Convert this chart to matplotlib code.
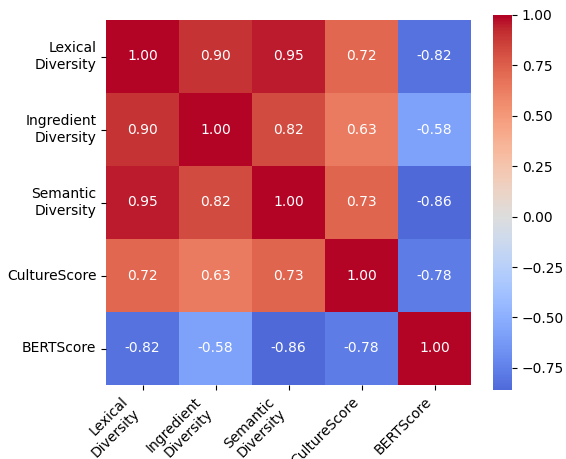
import numpy as np
import matplotlib
matplotlib.use("Agg")
import matplotlib.pyplot as plt
import seaborn as sns

labels = ["Lexical\nDiversity", "Ingredient\nDiversity", "Semantic\nDiversity",
          "CultureScore", "BERTScore"]
corr = np.array([
    [1.00, 0.90, 0.95, 0.72, -0.82],
    [0.90, 1.00, 0.82, 0.63, -0.58],
    [0.95, 0.82, 1.00, 0.73, -0.86],
    [0.72, 0.63, 0.73, 1.00, -0.78],
    [-0.82, -0.58, -0.86, -0.78, 1.00],
])

fig = plt.figure(figsize=(5.66, 4.59), dpi=100)
ax = fig.add_axes([106 / 566, 1 - 385 / 459, 365 / 566, 365 / 459])
cax = fig.add_axes([493 / 566, 1 - 390 / 459, 19 / 566, 375 / 459])

sns.heatmap(corr, annot=True, fmt=".2f", cmap="coolwarm", center=0,
            xticklabels=labels, yticklabels=labels, ax=ax, cbar_ax=cax)
ax.set_xticklabels(labels, rotation=45, ha="right")
ax.set_yticklabels(labels, rotation=0)

fig.savefig("out.png", dpi=100)
